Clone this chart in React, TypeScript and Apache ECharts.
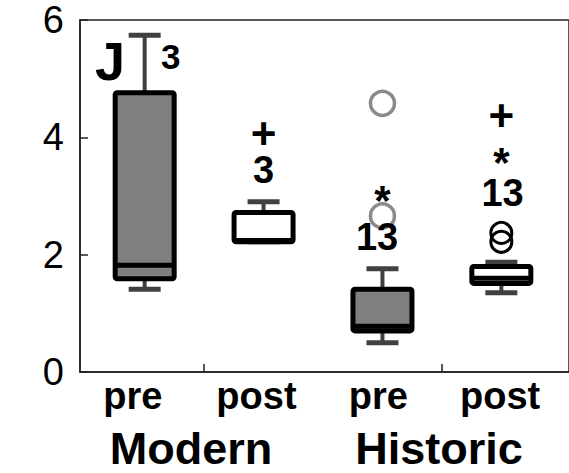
import React, { useEffect, useRef } from "react";
import * as echarts from "echarts";

// Category positions and tick labels
const groupPositions = [1, 2, 3, 4];
const tickLabels = ["pre", "post", "pre", "post"];
const tickLabelPositions = [0.9, 1.94, 2.965, 3.99];
const groupNames = ["Modern", "Historic"];
const yTicks = [0, 2, 4, 6];

// Box statistics: [x, min, Q1, median, Q3, max]
const boxStats = [
  [1, 1.41, 1.59, 1.82, 4.76, 5.74],
  [2, 2.22, 2.22, 2.24, 2.72, 2.9],
  [3, 0.5, 0.7, 0.78, 1.41, 1.76],
  [4, 1.35, 1.51, 1.6, 1.8, 1.87],
];
const boxFills = ["#7f7f7f", "#ffffff", "#7f7f7f", "#ffffff"];

// Outliers (circles)
const historicPreCircles = [
  [3, 4.58],
  [3, 2.66],
];
const historicPostCircles = [
  [4, 2.37],
  [4, 2.22],
];
// Extreme values
const plusMarks = [
  [2, 4.07],
  [4, 4.38],
];
const starMarks = [
  [3, 3.07],
  [4, 3.73],
];
// Case-number labels
const caseLabels = [
  { x: 1.22, y: 5.37, text: "3", size: 35 },
  { x: 2, y: 3.44, text: "3", size: 38 },
  { x: 2.955, y: 2.3, text: "13", size: 38 },
  { x: 4.01, y: 3.05, text: "13", size: 38 },
];

const FONT = "'Liberation Sans', Arial, Helvetica, sans-serif";

export default function App() {
  const ref = useRef<HTMLDivElement>(null);
  useEffect(() => {
    if (!ref.current) return;
    const chart = echarts.init(ref.current, undefined, { renderer: "svg" });
    const labelSeries = (data: any[], text: string, size: number, offsetY: number) => ({
      type: "scatter",
      data,
      symbolSize: 1,
      itemStyle: { color: "rgba(0,0,0,0)", opacity: 1 },
      label: {
        show: true,
        position: "inside",
        formatter: text,
        fontFamily: FONT,
        fontWeight: "bold",
        fontSize: size,
        color: "#000",
        opacity: 1,
        textBorderWidth: 0,
        offset: [0, offsetY],
      },
      z: 5,
    });
    chart.setOption({
      animation: false,
      backgroundColor: "#fff",
      grid: {
        left: 80,
        top: 20,
        right: -10,
        bottom: 101,
        show: true,
        borderColor: "#222",
        borderWidth: 1.5,
        backgroundColor: "transparent",
      },
      xAxis: {
        type: "value",
        min: 0.456,
        max: 4.569,
        splitLine: { show: false },
        axisLine: { show: true, lineStyle: { color: "#222", width: 1.5 } },
        axisTick: {
          show: true,
          inside: true,
          length: 8,
          customValues: [1.5, 3.5],
          lineStyle: { color: "#222", width: 1.5 },
        },
        axisLabel: {
          show: true,
          customValues: tickLabelPositions,
          formatter: (v: number) => {
            const i = tickLabelPositions.findIndex((p) => Math.abs(p - v) < 1e-6);
            return i >= 0 ? tickLabels[i] : "";
          },
          fontFamily: FONT,
          fontWeight: "bold",
          fontSize: 38,
          color: "#000",
          margin: 5,
        },
      },
      yAxis: {
        type: "value",
        min: 0,
        max: 6,
        interval: 2,
        splitLine: { show: false },
        axisLine: { show: true, lineStyle: { color: "#222", width: 1.5 } },
        axisTick: { show: true, inside: true, length: 8, lineStyle: { color: "#222", width: 1.5 } },
        axisLabel: {
          fontFamily: FONT,
          fontSize: 38,
          color: "#000",
          margin: 16,
          customValues: yTicks,
        },
      },
      graphic: [
        {
          type: "text",
          left: 95,
          top: 34,
          style: { text: "J", fontFamily: FONT, fontWeight: "bold", fontSize: 54, fill: "#000" },
        },
        {
          type: "text",
          x: 191,
          y: 448,
          style: {
            text: groupNames[0],
            fontFamily: FONT,
            fontWeight: "bold",
            fontSize: 45,
            fill: "#000",
            align: "center",
            verticalAlign: "middle",
          },
        },
        {
          type: "text",
          x: 439,
          y: 448,
          style: {
            text: groupNames[1],
            fontFamily: FONT,
            fontWeight: "bold",
            fontSize: 45,
            fill: "#000",
            align: "center",
            verticalAlign: "middle",
          },
        },
      ],
      series: [
        {
          type: "custom",
          data: boxStats,
          encode: { x: 0, y: [1, 2, 3, 4, 5] },
          renderItem: (params: any, api: any) => {
            const x = api.value(0);
            const [mn, q1, md, q3, mx] = [1, 2, 3, 4, 5].map((i) => api.value(i));
            const cx = api.coord([x, 0])[0];
            const y = (v: number) => api.coord([x, v])[1];
            const boxW = 59;
            const capW = 32;
            const whisk = "#404040";
            const fill = boxFills[params.dataIndex];
            return {
              type: "group",
              children: [
                { type: "line", shape: { x1: cx, y1: y(q3), x2: cx, y2: y(mx) }, style: { stroke: whisk, lineWidth: 4 } },
                { type: "line", shape: { x1: cx, y1: y(q1), x2: cx, y2: y(mn) }, style: { stroke: whisk, lineWidth: 4 } },
                { type: "line", shape: { x1: cx - capW / 2, y1: y(mx), x2: cx + capW / 2, y2: y(mx) }, style: { stroke: whisk, lineWidth: 5 } },
                { type: "line", shape: { x1: cx - capW / 2, y1: y(mn), x2: cx + capW / 2, y2: y(mn) }, style: { stroke: whisk, lineWidth: 5 } },
                {
                  type: "rect",
                  shape: { x: cx - boxW / 2, y: y(q3), width: boxW, height: y(q1) - y(q3), r: 2 },
                  style: { fill, stroke: "#000", lineWidth: 5 },
                },
                { type: "line", shape: { x1: cx - boxW / 2, y1: y(md), x2: cx + boxW / 2, y2: y(md) }, style: { stroke: "#000", lineWidth: 5 } },
              ],
            };
          },
          z: 2,
        },
        {
          type: "scatter",
          data: historicPreCircles,
          symbol: "circle",
          symbolSize: 24,
          itemStyle: { color: "rgba(255,255,255,0)", borderColor: "#8a8a8a", borderWidth: 3.5, opacity: 1 },
          z: 3,
        },
        {
          type: "scatter",
          data: historicPostCircles,
          symbol: "circle",
          symbolSize: 21,
          itemStyle: { color: "rgba(255,255,255,0)", borderColor: "#000", borderWidth: 3, opacity: 1 },
          z: 3,
        },
        labelSeries(plusMarks, "+", 44, 0),
        labelSeries(starMarks, "*", 42, 9),
        {
          type: "scatter",
          data: caseLabels.map((d) => ({
            value: [d.x, d.y],
            name: d.text,
            label: { fontSize: d.size },
          })),
          symbolSize: 1,
          itemStyle: { color: "rgba(0,0,0,0)", opacity: 1 },
          label: {
            show: true,
            position: "inside",
            formatter: "{b}",
            fontFamily: FONT,
            fontWeight: "bold",
            color: "#000",
            opacity: 1,
            textBorderWidth: 0,
          },
          z: 6,
        },
      ],
    });
    return () => chart.dispose();
  }, []);
  return (
    <div
      ref={ref}
      style={{ position: "fixed", left: 0, top: 0, width: 569, height: 473, background: "#fff" }}
    />
  );
}
